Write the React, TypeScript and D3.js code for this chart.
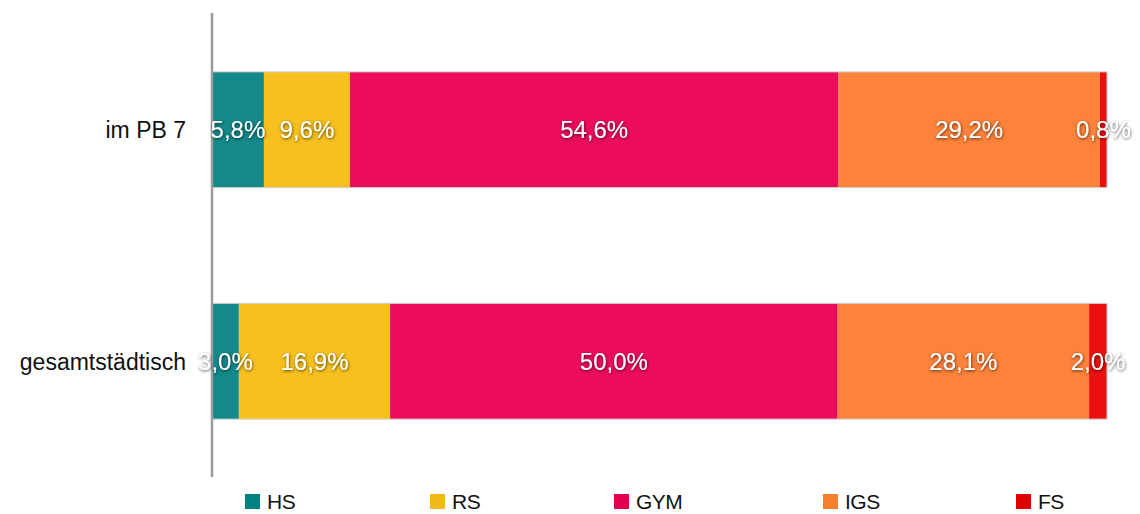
import React from "react";
import * as d3 from "d3";

const categories = ["im PB 7", "gesamtstädtisch"];
const seriesNames = ["HS", "RS", "GYM", "IGS", "FS"];
const hsValues = [5.8, 3.0];
const rsValues = [9.6, 16.9];
const gymValues = [54.6, 50.0];
const igsValues = [29.2, 28.1];
const fsValues = [0.8, 2.0];

const barColors = ["#13898a", "#f6c01f", "#ec0c5c", "#fd823a", "#ea100f"];
const legendColors = ["#008080", "#f0b81a", "#e0004f", "#f57f2f", "#e00000"];
const LEGEND_X = [245, 430, 614, 823, 1016];

const W = 1140;
const H = 514;
const FONT = "'Liberation Sans', Arial, Helvetica, sans-serif";

export default function App() {
  const rows = categories.map((c, i) => ({
    cat: c,
    HS: hsValues[i],
    RS: rsValues[i],
    GYM: gymValues[i],
    IGS: igsValues[i],
    FS: fsValues[i],
  }));
  const stack = d3.stack<any>().keys(seriesNames);
  const layers = stack(rows);

  const x = d3.scaleLinear().domain([0, 100]).range([212, 1107]);
  const y = d3
    .scaleBand<string>()
    .domain(categories)
    .range([14, 477])
    .paddingInner(0.5)
    .paddingOuter(0.25);
  const fmt = (v: number) => v.toFixed(1).replace(".", ",") + "%";

  return (
    <svg
      width={W}
      height={H}
      style={{ position: "absolute", left: 0, top: 0, background: "#fff" }}
    >
      <defs>
        <filter id="shadow" x="-20%" y="-40%" width="140%" height="180%">
          <feDropShadow dx="0.5" dy="1" stdDeviation="1.8" floodColor="#000" floodOpacity="0.7" />
        </filter>
      </defs>
      {layers.map((layer, si) =>
        layer.map((d, ci) => (
          <rect
            key={`${si}-${ci}`}
            x={x(d[0])}
            y={y(categories[ci])}
            width={x(d[1]) - x(d[0])}
            height={y.bandwidth()}
            fill={barColors[si]}
          />
        ))
      )}
      {categories.map((c) => (
        <rect
          key={"o" + c}
          x={x(0)}
          y={y(c)}
          width={x(100) - x(0)}
          height={y.bandwidth()}
          fill="none"
          stroke="#cfcfcf"
          strokeWidth={1}
        />
      ))}
      <line x1={212} x2={212} y1={13} y2={477} stroke="#9c9c9c" strokeWidth={2.5} />
      {categories.map((c) => (
        <text
          key={"c" + c}
          x={186}
          y={(y(c) as number) + y.bandwidth() / 2}
          dy="0.36em"
          textAnchor="end"
          fontFamily={FONT}
          fontSize={23}
          fill="#111"
        >
          {c}
        </text>
      ))}
      {layers.map((layer, si) =>
        layer.map((d, ci) => (
          <text
            key={`l${si}-${ci}`}
            x={(x(d[0]) + x(d[1])) / 2}
            y={(y(categories[ci]) as number) + y.bandwidth() / 2}
            dy="0.36em"
            textAnchor="middle"
            fontFamily={FONT}
            fontSize={24}
            fill="#ffffff"
            filter="url(#shadow)"
          >
            {fmt(d[1] - d[0])}
          </text>
        ))
      )}
      {seriesNames.map((s, i) => (
        <g key={"lg" + s}>
          <rect x={LEGEND_X[i]} y={494} width={15} height={15} fill={legendColors[i]} />
          <text
            x={LEGEND_X[i] + 22}
            y={509}
            fontFamily={FONT}
            fontSize={21}
            letterSpacing={-0.5}
            fill="#111"
          >
            {s}
          </text>
        </g>
      ))}
    </svg>
  );
}
